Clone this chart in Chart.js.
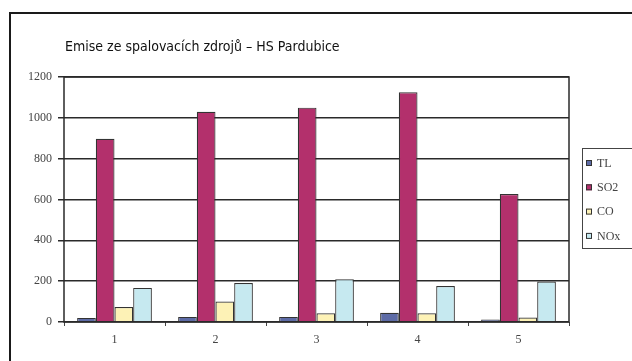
<!DOCTYPE html>
<html>
<head>
<meta charset="utf-8">
<script src="https://cdn.jsdelivr.net/npm/chart.js@4.4.1/dist/chart.umd.min.js"></script>
<style>
    html, body { margin: 0; padding: 0; background: #fff; }
    #wrap { position: relative; width: 632px; height: 361px; overflow: hidden; }
    #frame { position: absolute; left: 9px; top: 12px; width: 700px; height: 400px; border: 2px solid #1a1a1a; }
    canvas { position: absolute; left: 0; top: 0; }
</style>
</head>
<body>
<div id="wrap">
    <div id="frame"></div>
    <canvas id="emiseChart" width="632" height="361"></canvas>
</div>
<script>
const chartTitle = 'Emise ze spalovacích zdrojů – HS Pardubice';
const categories = ['1', '2', '3', '4', '5'];
const seriesNames = ['TL', 'SO2', 'CO', 'NOx'];
const tlValues  = [20, 25, 25, 45, 12];
const so2Values = [897, 1030, 1050, 1125, 627];
const coValues  = [73, 100, 43, 43, 22];
const noxValues = [167, 191, 210, 176, 198];
const yTicks = [0, 200, 400, 600, 800, 1000, 1200];

const colors = ['#5d6ba6', '#b3306c', '#fdf2b6', '#c6e9f0'];
const serif = "'Liberation Serif', 'DejaVu Serif', serif";

// title + plot box + legend are drawn by hand to match the scan
const decorPlugin = {
    id: 'decor',
    afterDraw(chart) {
        const ctx = chart.ctx;
        const a = chart.chartArea;
        ctx.save();

        ctx.strokeStyle = '#2a2a2a';
        ctx.lineWidth = 1.5;
        ctx.strokeRect(a.left, a.top, a.right - a.left, a.bottom - a.top);

        ctx.fillStyle = '#111';
        ctx.font = "14px 'Liberation Sans Narrow', 'DejaVu Sans Condensed', sans-serif";
        ctx.textBaseline = 'middle';
        ctx.fillText(chartTitle, 65, 47);

        // legend
        ctx.lineWidth = 1;
        ctx.strokeStyle = '#444';
        ctx.strokeRect(582.5, 148.5, 70, 100);
        ctx.font = '12px ' + serif;
        chart.data.datasets.forEach((ds, i) => {
            const y = 163 + i * 24.3;
            ctx.fillStyle = ds.backgroundColor;
            ctx.fillRect(586, y - 3, 6, 6);
            ctx.strokeStyle = '#333';
            ctx.strokeRect(586.5, y - 2.5, 5, 5);
            ctx.fillStyle = '#444';
            ctx.fillText(ds.label, 597, y + 0.5);
        });
        ctx.restore();
    }
};

const ctx = document.getElementById('emiseChart').getContext('2d');
new Chart(ctx, {
    type: 'bar',
    data: {
        labels: categories,
        datasets: [tlValues, so2Values, coValues, noxValues].map((vals, i) => ({
            label: seriesNames[i],
            data: vals,
            backgroundColor: colors[i],
            borderColor: '#333',
            borderWidth: 1.2,
            barPercentage: 1,
            categoryPercentage: 0.74
        }))
    },
    options: {
        responsive: false,
        animation: false,
        layout: { padding: { left: 0, right: 63, top: 77, bottom: 0 } },
        plugins: {
            legend: { display: false },
            title: { display: false },
            tooltip: { enabled: false }
        },
        scales: {
            x: {
                offset: true,
                grid: { offset: true, drawOnChartArea: false, color: '#444', tickLength: 4, lineWidth: 1 },
                border: { display: false },
                ticks: { color: '#444', font: { family: serif, size: 12 }, padding: 7 },
                afterFit(scale) { scale.height = 39; }
            },
            y: {
                min: 0,
                max: 1200,
                afterBuildTicks(scale) { scale.ticks = yTicks.map(v => ({ value: v })); },
                grid: { color: '#2a2a2a', lineWidth: 1.5, tickLength: 6 },
                border: { display: false },
                ticks: {
                    color: '#444',
                    font: { family: serif, size: 12 },
                    padding: 6,
                    callback: v => String(v)
                },
                afterFit(scale) { scale.width = 64; }
            }
        }
    },
    plugins: [decorPlugin]
});
</script>
</body>
</html>
